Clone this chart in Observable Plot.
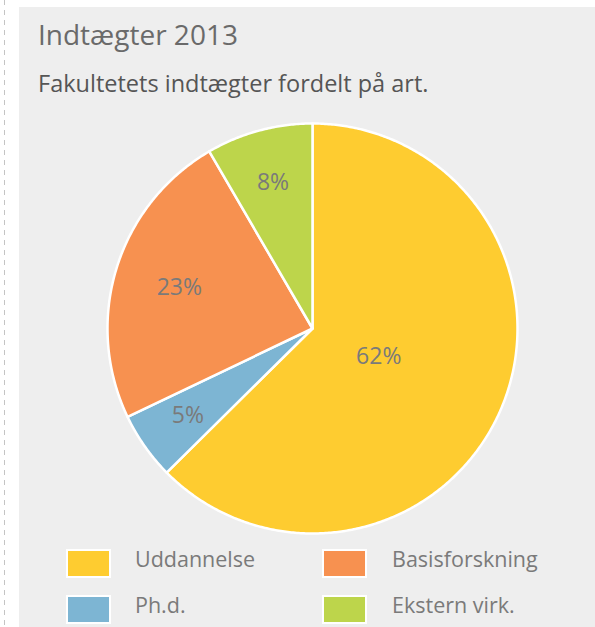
<!DOCTYPE html>
<html>
<head>
<meta charset="utf-8">
<script src="https://cdn.jsdelivr.net/npm/d3@7"></script>
<script src="https://cdn.jsdelivr.net/npm/@observablehq/plot@0.6"></script>
<style>
  html, body { margin: 0; padding: 0; background: #ffffff; }
  body { width: 595px; height: 627px; position: relative; overflow: hidden; font-family: "Open Sans", sans-serif; }
  #dash { position: absolute; left: 4px; top: 0; bottom: 0; width: 1px;
          background: repeating-linear-gradient(to bottom, #c4c4c4 0 5px, transparent 5px 10px); }
  #panel { position: absolute; left: 19px; top: 7px; right: 0; bottom: 0; background: #eeeeee; }
  .t { position: absolute; white-space: nowrap; line-height: 1; }
  #title { left: 38px; top: 20px; font-size: 28px; color: #6a6a6a; }
  #subtitle { left: 38px; top: 71.5px; font-size: 23.5px; color: #555555; letter-spacing: 0; }
  #chart { position: absolute; left: 0; top: 113px; }
  .sw { position: absolute; width: 41px; height: 25px; border: 2px solid #ffffff; }
  .lt { position: absolute; font-size: 21.5px; line-height: 1; color: #7a7a7a; white-space: nowrap; }
</style>
</head>
<body>
<div id="dash"></div>
<div id="panel"></div>
<div class="t" id="title"></div>
<div class="t" id="subtitle"></div>
<div id="chart"></div>
<div id="legend"></div>
<script>
const titleText = "Indtægter 2013";
const subtitleText = "Fakultetets indtægter fordelt på art.";
const categories = ["Uddannelse", "Ph.d.", "Basisforskning", "Ekstern virk."];
const shares = [62.6, 5.3, 23.7, 8.4];
const labels = ["62%", "5%", "23%", "8%"];
const colors = ["#fecc30", "#7db5d3", "#f79150", "#bdd54b"];

document.getElementById("title").textContent = titleText;
document.getElementById("subtitle").textContent = subtitleText;

const pie = d3.pie().sort(null).value(d => d.value)(
  categories.map((c, i) => ({category: c, value: shares[i], label: labels[i]}))
);

// polygon points for each slice in unit coordinates
const pts = [];
const labelPts = [];
pie.forEach(p => {
  const c = p.data.category;
  const poly = [[0, 0]];
  const n = Math.max(2, Math.ceil((p.endAngle - p.startAngle) / (Math.PI / 360)));
  for (let k = 0; k <= n; k++) {
    const a = p.startAngle + (p.endAngle - p.startAngle) * k / n;
    poly.push([Math.sin(a), Math.cos(a)]);
  }
  poly.push([0, 0]);
  poly.forEach(([x, y]) => pts.push({category: c, x, y}));
  // label at the slice's area centroid, nudged slightly outward
  const [gx, gy] = d3.polygonCentroid(poly);
  labelPts.push({label: p.data.label, x: gx * 1.12, y: gy * 1.12});
});

const R = 205, cx = 312, cy = 215;
const chart = Plot.plot({
  width: 595,
  height: 430,
  margin: 0,
  style: {background: "transparent", fontFamily: "Open Sans, sans-serif"},
  x: {domain: [-1, 1], range: [cx - R, cx + R], axis: null},
  y: {domain: [-1, 1], range: [cy + R, cy - R], axis: null},
  color: {domain: categories, range: colors},
  marks: [
    Plot.line(pts, {x: "x", y: "y", z: "category", fill: "category", stroke: "#ffffff",
                    strokeWidth: 2.5, strokeLinejoin: "round", curve: "linear"}),
    Plot.text(labelPts, {x: "x", y: "y", text: "label", fill: "#7a7a7a", fontSize: 23})
  ]
});
document.getElementById("chart").appendChild(chart);

// legend
const legend = document.getElementById("legend");
const legendCols = [66, 322];
const legendTextCols = [135, 392];
const legendRows = [549, 595];
const order = [0, 2, 1, 3];
order.forEach((idx, k) => {
  const col = k % 2, row = Math.floor(k / 2);
  const sw = document.createElement("div");
  sw.className = "sw";
  sw.style.left = legendCols[col] + "px";
  sw.style.top = legendRows[row] + "px";
  sw.style.background = colors[idx];
  legend.appendChild(sw);
  const t = document.createElement("div");
  t.className = "lt";
  t.style.left = legendTextCols[col] + "px";
  t.style.top = (legendRows[row] - 1) + "px";
  t.textContent = categories[idx];
  legend.appendChild(t);
});
</script>
</body>
</html>
